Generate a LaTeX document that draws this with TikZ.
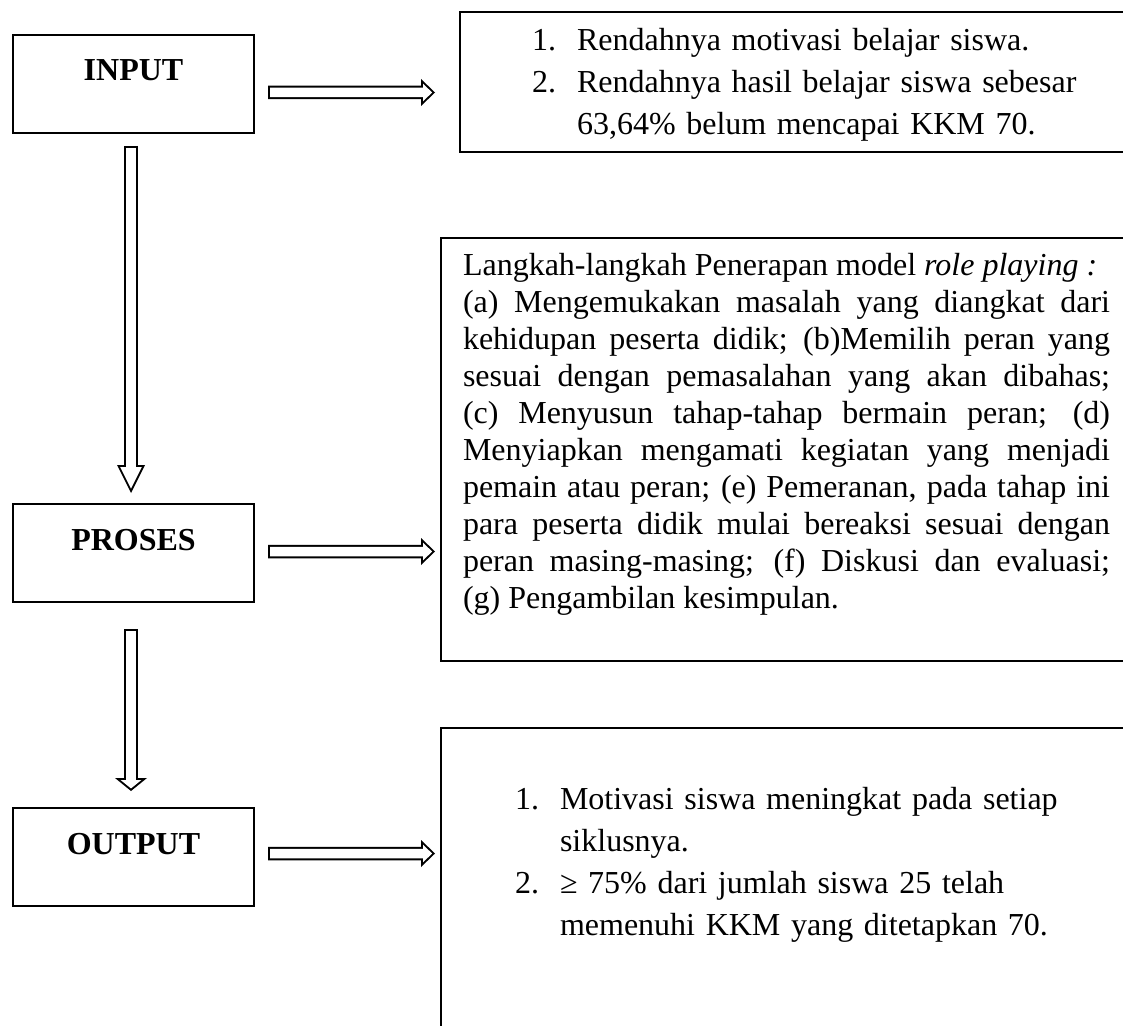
\documentclass[tikz,border=0pt]{standalone}
\usepackage{fontspec}
\setmainfont{Liberation Serif}
\usetikzlibrary{arrows.meta,calc}

\tikzset{
  stage/.style={draw,line width=0.8pt,outer sep=0pt,inner sep=0pt,minimum width=96.4pt,
    text height=18.4pt,text depth=20.8pt,font=\fontsize{12.8}{15}\selectfont\bfseries},
  panel/.style={draw,line width=0.8pt,outer sep=0pt,inner ysep=0pt,anchor=north west,
    align=left,text width=224pt,font=\fontsize{12.8}{16.8}\selectfont},
  hollow/.style n args={5}{line width=5.4pt,
    -{Triangle[length=#1,width=#2,line width=0pt 0 0]},
    postaction={draw=white,line width=3.8pt,shorten <=0.8pt,shorten >=#5,
      -{Triangle[length=#3,width=#4,line width=0pt 0 0,color=white,fill=white]}}},
  rarrow/.style={hollow={5.6pt}{10.8pt}{3.65pt}{7.04pt}{1.15pt}},
  darrow/.style={hollow={11.2pt}{11.2pt}{8.61pt}{8.61pt}{1.79pt}},
  dshort/.style={hollow={5.2pt}{12.8pt}{3.37pt}{8.29pt}{1.03pt}}
}

\begin{document}
\begin{tikzpicture}[x=0.4pt,y=-0.4pt]
  \useasboundingbox (0,0) rectangle (1123,1025);
  \clip (0,0) rectangle (1123,1025);

  \node[stage] (inbox) at (133.5,84) {INPUT};
  \node[stage] (procbox) at (133.5,553) {PROSES};
  \node[stage] (outbox) at (133.5,857) {OUTPUT};

  \node[panel,inner xsep=28.8pt,text height=15.6pt,text depth=40.4pt] (inlist) at (460,12)
    {\begin{tabular}[t]{@{}p{18pt}@{}l@{}}
      1. & Rendahnya motivasi belajar siswa.\\
      2. & Rendahnya hasil belajar siswa sebesar\\
         & 63,64\% belum mencapai KKM 70.
    \end{tabular}};
  \node[panel,align=justify,text width=258.8pt,inner xsep=8.8pt,text height=14.8pt,text depth=154.4pt,
    font=\fontsize{12.8}{14.8}\selectfont] (proclist) at (441,238)
    {Langkah-langkah Penerapan model \textit{role playing :}\par
    (a) Mengemukakan masalah yang diangkat dari\linebreak
    kehidupan peserta didik; (b)Memilih peran yang\linebreak
    sesuai dengan pemasalahan yang akan dibahas;\linebreak
    (c) Menyusun tahap-tahap bermain peran; (d)\linebreak
    Menyiapkan mengamati kegiatan yang menjadi\linebreak
    pemain atau peran; (e) Pemeranan, pada tahap ini\linebreak
    para peserta didik mulai bereaksi sesuai dengan\linebreak
    peran masing-masing; (f) Diskusi dan evaluasi;\linebreak
    (g) Pengambilan kesimpulan.};
  \node[panel,inner xsep=29.6pt,text height=32.4pt,text depth=92.4pt] (outlist) at (441,728)
    {\begin{tabular}[t]{@{}p{18pt}@{}l@{}}
      1. & Motivasi siswa meningkat pada setiap\\
         & siklusnya.\\
      2. & ≥ 75\% dari jumlah siswa 25 telah\\
         & memenuhi KKM yang ditetapkan 70.
    \end{tabular}};

  \draw[rarrow] ($(inbox.east)+(14,8.5)$) -- ($(inlist.west)+(-25,10.5)$);
  \draw[rarrow] ($(procbox.east)+(14,-1.5)$) -- ($(proclist.west)+(-6,102)$);
  \draw[rarrow] ($(outbox.east)+(14,-3.5)$) -- ($(outlist.west)+(-6,-30.5)$);
  \draw[darrow] ($(inbox.south)+(-2.5,13)$) -- ($(procbox.north)+(-2.5,-11)$);
  \draw[dshort] ($(procbox.south)+(-2.5,27)$) -- ($(outbox.north)+(-2.5,-17)$);
\end{tikzpicture}
\end{document}
